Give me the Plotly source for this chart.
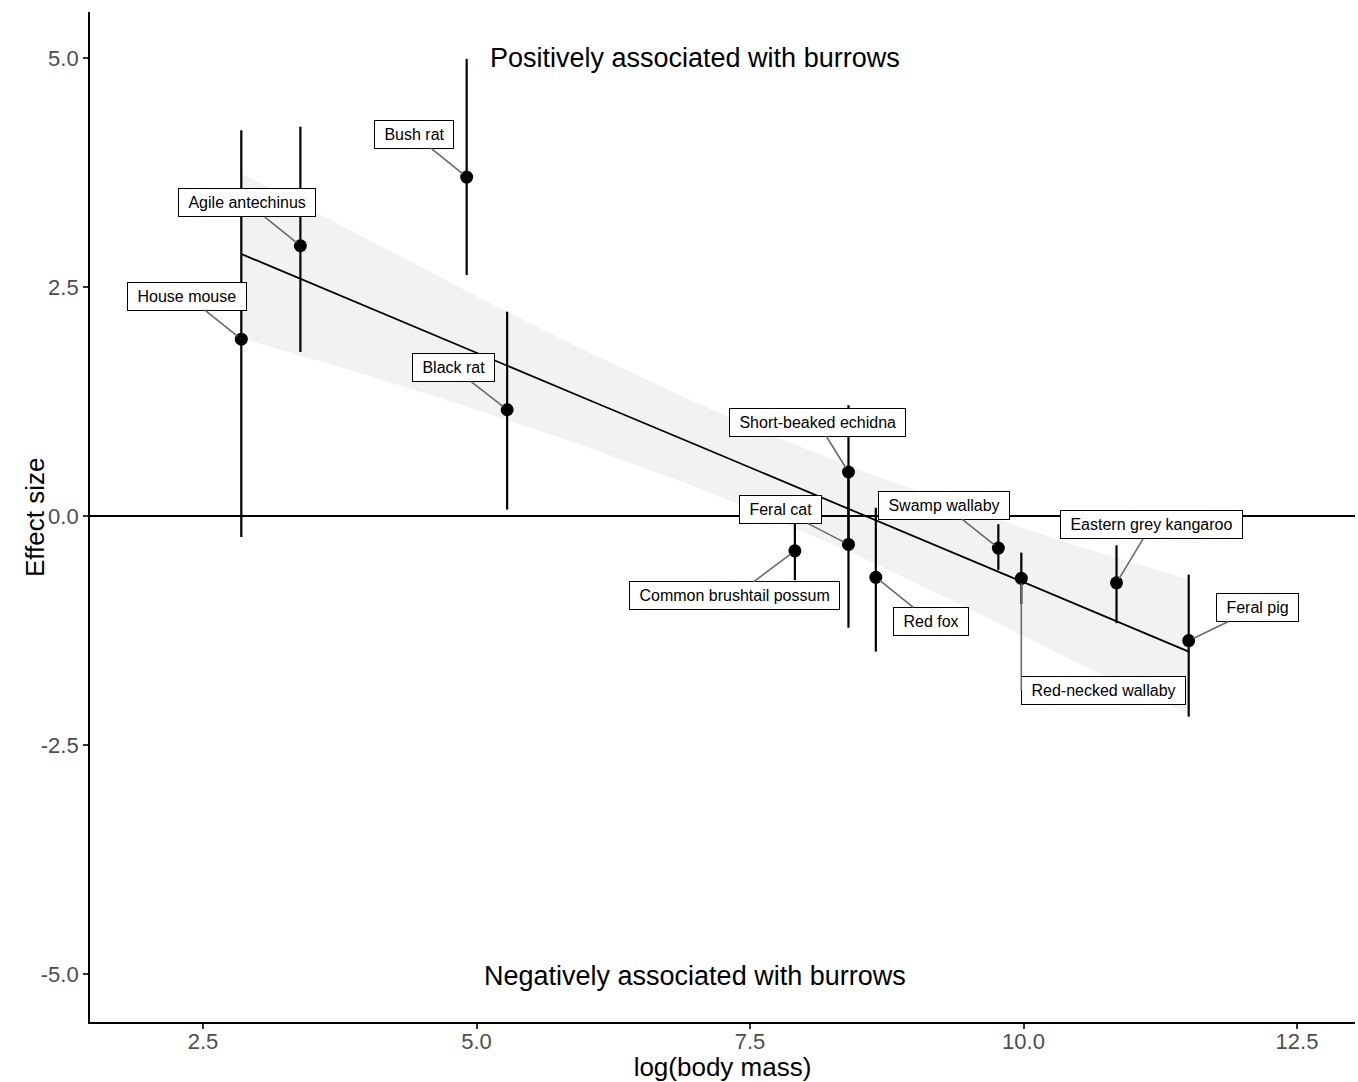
import plotly.graph_objects as go

# ---- data ----
species = ["House mouse", "Agile antechinus", "Bush rat", "Black rat",
           "Short-beaked echidna", "Feral cat", "Common brushtail possum",
           "Red fox", "Swamp wallaby", "Red-necked wallaby",
           "Eastern grey kangaroo", "Feral pig"]
log_mass = [2.85, 3.39, 4.91, 5.28, 8.40, 8.40, 7.91, 8.65, 9.77, 9.98, 10.85, 11.51]
effect = [1.93, 2.95, 3.70, 1.16, 0.48, -0.31, -0.38, -0.67, -0.35, -0.68, -0.73, -1.36]
ci_upper = [4.21, 4.25, 4.99, 2.23, 1.21, 0.45, -0.06, 0.09, -0.09, -0.40, -0.32, -0.64]
ci_lower = [-0.23, 1.79, 2.63, 0.07, -0.25, -1.22, -0.70, -1.48, -0.59, -0.96, -1.17, -2.19]

# fitted regression line and its confidence band
fit_x = [2.85, 4.0, 5.0, 6.0, 7.0, 7.66, 8.5, 9.5, 10.5, 11.51]
fit_y = [2.86, 2.28, 1.78, 1.28, 0.78, 0.45, 0.03, -0.47, -0.97, -1.48]
fit_upper = [3.74, 3.02, 2.40, 1.80, 1.24, 0.90, 0.50, 0.07, -0.33, -0.69]
fit_lower = [1.94, 1.54, 1.16, 0.76, 0.32, 0.00, -0.44, -1.01, -1.61, -2.16]

x_ticks = [2.5, 5.0, 7.5, 10.0, 12.5]
x_ticktext = ["2.5", "5.0", "7.5", "10.0", "12.5"]
y_ticks = [-5.0, -2.5, 0.0, 2.5, 5.0]
y_ticktext = ["-5.0", "-2.5", "0.0", "2.5", "5.0"]

# label placement (pixel offsets of label boxes from their points) - layout only
label_dx = [-54, -53, -53, -54, -31, -68, -60, 55, -54, 0, 35, 69]
label_dy = [-43, -43, -43, -42, -50, -35, 45, 44, -43, 112, -58, -33]
label_xanchor = ["auto"] * 9 + ["left"] + ["auto"] * 2

FONT = "Liberation Sans, Arial, sans-serif"

fig = go.Figure()

# confidence band
fig.add_trace(go.Scatter(x=fit_x, y=fit_lower, mode="lines", line=dict(width=0),
                         hoverinfo="skip", showlegend=False))
fig.add_trace(go.Scatter(x=fit_x, y=fit_upper, mode="lines", line=dict(width=0),
                         fill="tonexty", fillcolor="#F2F2F2",
                         hoverinfo="skip", showlegend=False))
# regression line
fig.add_trace(go.Scatter(x=fit_x, y=fit_y, mode="lines",
                         line=dict(color="black", width=1.8),
                         hoverinfo="skip", showlegend=False))

# points with error bars
err_plus = [u - e for u, e in zip(ci_upper, effect)]
err_minus = [e - l for e, l in zip(effect, ci_lower)]
fig.add_trace(go.Scatter(
    x=log_mass, y=effect, mode="markers", text=species,
    marker=dict(color="black", size=13),
    error_y=dict(type="data", symmetric=False, array=err_plus, arrayminus=err_minus,
                 color="black", thickness=2.2, width=0),
    showlegend=False))

annotations = []
for name, xv, yv, dx, dy, xa in zip(species, log_mass, effect, label_dx, label_dy, label_xanchor):
    annotations.append(dict(
        x=xv, y=yv, xref="x", yref="y",
        text="\u00a0" + name + "\u00a0",
        showarrow=True, arrowhead=0, arrowwidth=1.6, arrowcolor="#6a6a6a",
        ax=dx, ay=dy, standoff=5, xanchor=xa,
        font=dict(family=FONT, size=16, color="black"),
        bgcolor="white", bordercolor="black", borderwidth=1, borderpad=5))

annotations.append(dict(x=7.0, y=5.0, xref="x", yref="y", showarrow=False,
                        text="Positively associated with burrows",
                        font=dict(family=FONT, size=27, color="black")))
annotations.append(dict(x=7.0, y=-5.02, xref="x", yref="y", showarrow=False,
                        text="Negatively associated with burrows",
                        font=dict(family=FONT, size=27, color="black")))
# y-axis title placed like the reference
annotations.append(dict(x=-0.0435, y=0.5, xref="paper", yref="paper", showarrow=False,
                        text="Effect size", textangle=-90,
                        xanchor="center", yanchor="middle",
                        font=dict(family=FONT, size=26, color="black")))

fig.update_layout(
    width=1358, height=1082,
    margin=dict(l=90, r=3, t=12, b=60),
    paper_bgcolor="white", plot_bgcolor="white",
    font=dict(family=FONT),
    annotations=annotations,
    shapes=[dict(type="line", xref="paper", yref="y", x0=0, x1=1, y0=0, y1=0,
                 line=dict(color="black", width=1.8), layer="above")],
    xaxis=dict(range=[1.467, 13.03], tickvals=x_ticks, ticktext=x_ticktext,
               showgrid=False, zeroline=False, showline=True, linecolor="black",
               linewidth=1.8, ticks="outside", ticklen=5, tickwidth=1.5,
               tickcolor="#333333", ticklabelstandoff=-6,
               tickfont=dict(family=FONT, size=22, color="#4D4D4D"),
               title=dict(text="log(body mass)", standoff=2,
                          font=dict(family=FONT, size=26, color="black"))),
    yaxis=dict(range=[-5.524, 5.502], tickvals=y_ticks, ticktext=y_ticktext,
               showgrid=False, zeroline=False, showline=True, linecolor="black",
               linewidth=1.8, ticks="outside", ticklen=5, tickwidth=1.5,
               tickcolor="#333333",
               tickfont=dict(family=FONT, size=22, color="#4D4D4D")),
)

fig.write_html("out.html", config={"displayModeBar": False},
               post_script="document.body.style.margin='0';")
